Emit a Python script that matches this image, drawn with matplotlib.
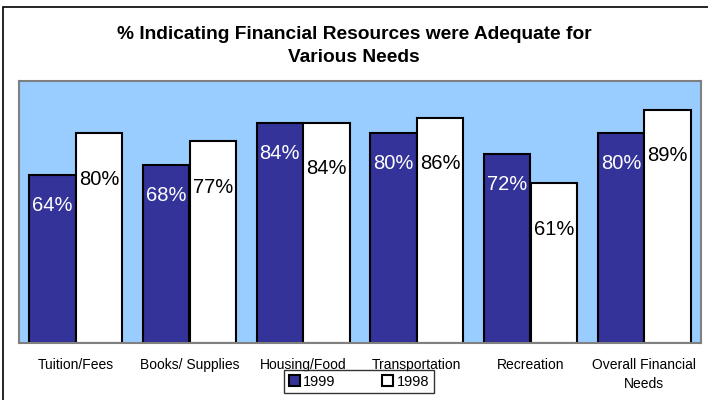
import matplotlib.pyplot as plt
import matplotlib.patches as mpatches
import numpy as np

plt.rcParams['font.family'] = ['Liberation Sans', 'DejaVu Sans']

categories = ['Tuition/Fees', 'Books/ Supplies', 'Housing/Food', 'Transportation',
              'Recreation', 'Overall Financial\nNeeds']
vals_1999 = [64, 68, 84, 80, 72, 80]
vals_1998 = [80, 77, 84, 86, 61, 89]
series_names = ['1999', '1998']

W, H = 708, 400
fig = plt.figure(figsize=(W / 100, H / 100), dpi=100)

# outer chart border (right/bottom edges fall off the image)
fig.patches.append(mpatches.Rectangle((3 / W, -0.1), 1.2, 1 - 7 / H + 0.1,
                                      transform=fig.transFigure, fill=False,
                                      edgecolor='black', linewidth=1.2))

ax = fig.add_axes([19 / W, 1 - 343 / H, (701 - 19) / W, (343 - 81) / H])
ax.set_facecolor('#99CCFF')
for s in ax.spines.values():
    s.set_color('#808080')
    s.set_linewidth(1.5)

x = np.arange(len(categories))
w = 0.41
b1 = ax.bar(x - w / 2, vals_1999, w, color='#333399', edgecolor='black', linewidth=1.5)
b2 = ax.bar(x + w / 2, vals_1998, w, color='white', edgecolor='black', linewidth=1.5)

for rect, v in zip(b1, vals_1999):
    ax.annotate(f'{v}%', (rect.get_x() + rect.get_width() / 2, v), xytext=(0, -22),
                textcoords='offset points', ha='center', va='center',
                color='white', fontsize=14.5)
for rect, v in zip(b2, vals_1998):
    ax.annotate(f'{v}%', (rect.get_x() + rect.get_width() / 2, v), xytext=(0, -33),
                textcoords='offset points', ha='center', va='center',
                color='black', fontsize=14.5)

ax.set_xlim(-0.5, len(categories) - 0.5)
ax.set_ylim(0, 100)
ax.set_yticks([])
ax.set_xticks(x)
ax.set_xticklabels(categories, fontsize=10, linespacing=1.5)
ax.tick_params(axis='x', length=0, pad=10.5)

fig.text(0.5, 1 - 46 / H, '% Indicating Financial Resources were Adequate for\nVarious Needs',
         ha='center', va='center', fontsize=13.8, fontweight='bold', linespacing=1.5)

leg = fig.legend([b1, b2], series_names, loc='center', bbox_to_anchor=(359 / W, 1 - 381.5 / H),
                 ncol=2, frameon=True, fancybox=False, fontsize=10.5,
                 handlelength=0.75, handleheight=0.75, handletextpad=0.25,
                 columnspacing=3.2, borderpad=0.3)
leg.get_frame().set_edgecolor('black')
leg.get_frame().set_linewidth(1.0)

fig.savefig('out.png', dpi=100)
